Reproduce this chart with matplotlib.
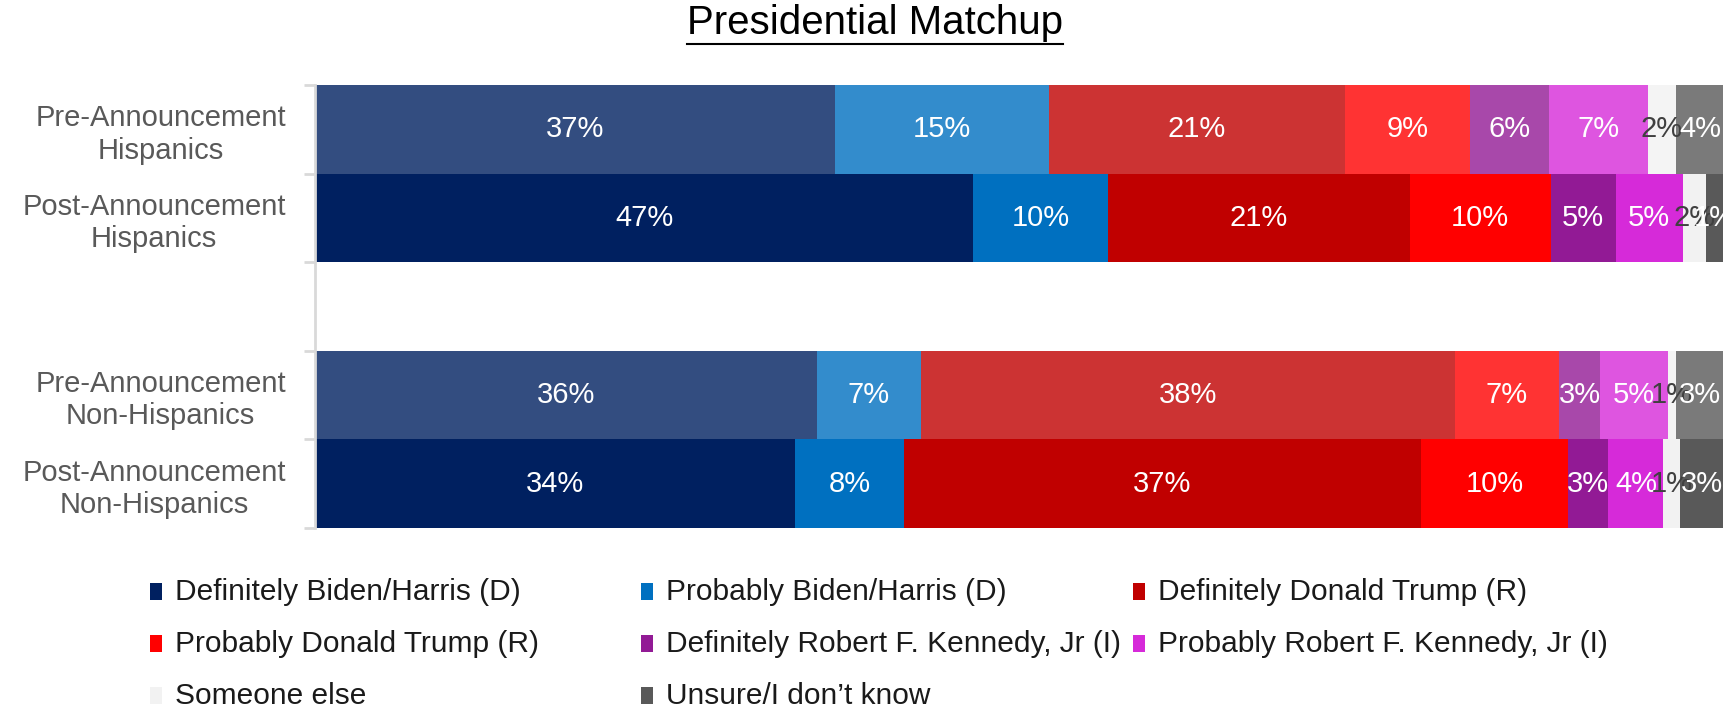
import matplotlib
matplotlib.use("Agg")
import matplotlib.pyplot as plt
from matplotlib.patches import Rectangle
from matplotlib.lines import Line2D

plt.rcParams['font.family'] = ['Liberation Sans', 'DejaVu Sans']

# rows, top to bottom (None = empty spacer row)
rows = ["Pre-Announcement\nHispanics", "Post-Announcement\nHispanics", None,
        "Pre-Announcement\nNon-Hispanics", "Post-Announcement\nNon-Hispanics"]
is_pre = [True, False, None, True, False]

answers = ["Definitely Biden/Harris (D)", "Probably Biden/Harris (D)",
           "Definitely Donald Trump (R)", "Probably Donald Trump (R)",
           "Definitely Robert F. Kennedy, Jr (I)", "Probably Robert F. Kennedy, Jr (I)",
           "Someone else", "Unsure/I don\u2019t know"]
colors = ["#002060", "#0070C0", "#C00000", "#FF0000",
          "#921A95", "#D62AD9", "#F2F2F2", "#595959"]

# share per answer, one list per row
pre_hisp = [36.9, 15.2, 21.0, 8.9, 5.6, 7.0, 2.0, 4.0]
post_hisp = [46.7, 9.6, 21.4, 10.0, 4.6, 4.8, 1.6, 1.3]
pre_non = [35.6, 7.4, 37.9, 7.4, 2.9, 4.8, 0.6, 3.4]
post_non = [34.1, 7.7, 36.7, 10.4, 2.9, 3.9, 1.2, 3.3]
values = [pre_hisp, post_hisp, None, pre_non, post_non]

W, H = 1724, 713
fig = plt.figure(figsize=(W / 100, H / 100), dpi=100)
ax = fig.add_axes([315 / W, 1 - 528 / H, (W - 315) / W, (528 - 85) / H])

for i, vals in enumerate(values):
    if vals is None:
        continue
    left = 0
    alpha = 0.8 if is_pre[i] else 1.0
    for j, v in enumerate(vals):
        ax.barh(i, v, left=left, height=1.0, color=colors[j], alpha=alpha, linewidth=0)
        right = min(left + v, 100)
        txt_col = "#404040" if j == 6 else "white"
        ax.text((left + right) / 2, i, f"{v:.0f}%", ha="center", va="center",
                color=txt_col, fontsize=21)
        left += v

ax.set_xlim(0, 100)
ax.set_ylim(4.5, -0.5)
ax.set_xticks([])
for s in ["top", "right", "bottom"]:
    ax.spines[s].set_visible(False)
ax.spines["left"].set_color("#D9D9D9")
ax.spines["left"].set_linewidth(2)

ax.set_yticks([k - 0.5 for k in range(6)])
ax.set_yticklabels([])
ax.tick_params(axis="y", which="major", length=8, width=2, color="#D9D9D9")
ax.set_yticks([k for k, r in enumerate(rows) if r], minor=True)
ax.set_yticklabels([r for r in rows if r], minor=True, fontsize=21, color="#595959",
                   multialignment="center")
ax.tick_params(axis="y", which="minor", length=0, pad=21)

# title, underlined
title = fig.text(875 / W, 1 - 23 / H, "Presidential Matchup", ha="center", va="center",
                 fontsize=29, color="black")
fig.canvas.draw()
bb = title.get_window_extent(fig.canvas.get_renderer())
uy = bb.y0 - 2
fig.add_artist(Line2D([bb.x0 / W, bb.x1 / W], [uy / H, uy / H], transform=fig.transFigure,
                      color="black", linewidth=1.5))

# legend laid out in fixed columns, row by row
col_x = [150, 641, 1133]
row_y = [592, 644, 696]
for k, (lab, c) in enumerate(zip(answers, colors)):
    x = col_x[k % 3]
    y = row_y[k // 3]
    fig.add_artist(Rectangle((x / W, 1 - (y + 8) / H), 12 / W, 17 / H,
                             transform=fig.transFigure, color=c, linewidth=0))
    fig.text((x + 25) / W, 1 - y / H, lab, ha="left", va="center", fontsize=21.5,
             color="#1a1a1a")

fig.savefig("out.png", dpi=100)
